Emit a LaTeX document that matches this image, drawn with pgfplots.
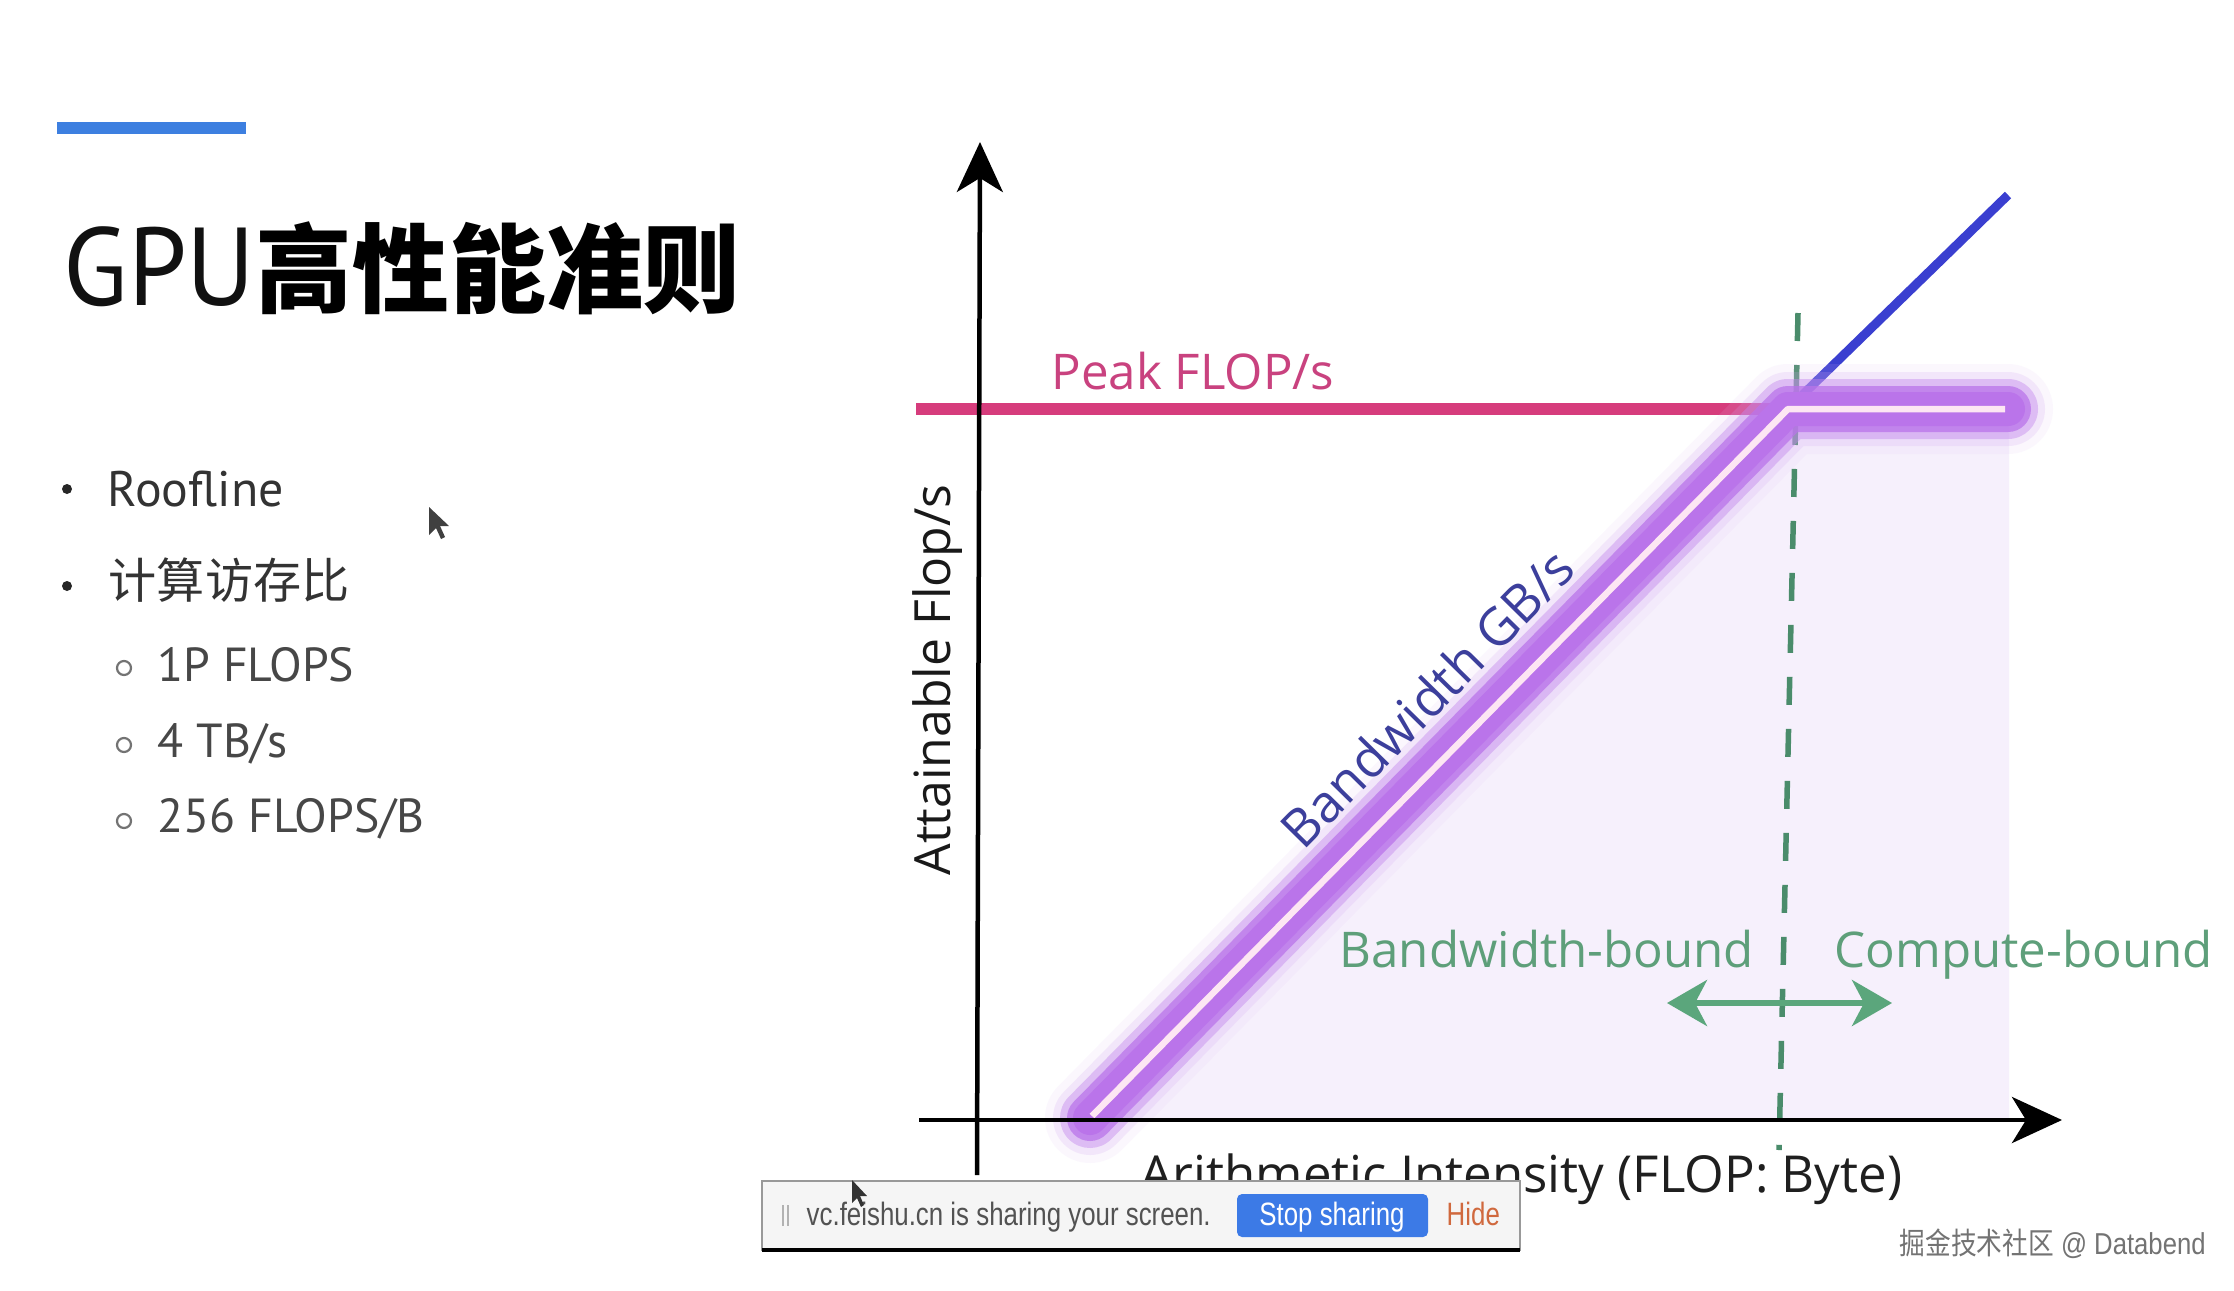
\documentclass[border=0pt]{standalone}
\usepackage{fontspec}
\usepackage{graphicx}
\usepackage{pgfplots}
\pgfplotsset{compat=1.18}
\usetikzlibrary{arrows.meta}
\setmainfont{Open Sans}
\newfontfamily\ptsans{PT Sans}
\newfontfamily\cjk{Noto Sans CJK SC}
\newfontfamily\lib{Liberation Sans}
\definecolor{titlebar}{HTML}{3D7FE0}
\definecolor{peak}{HTML}{D63C7C}
\definecolor{peaktext}{HTML}{C9427F}
\definecolor{bwblue}{HTML}{3A3FD0}
\definecolor{glow}{HTML}{BA74EA}
\definecolor{shade}{HTML}{F6F0FC}
\definecolor{dgreen}{HTML}{4A8C6B}
\definecolor{lgreen}{HTML}{5BA67C}
\definecolor{tgreen}{HTML}{5E9F7A}
\definecolor{indigo}{HTML}{3C3F9C}
\definecolor{stopblue}{HTML}{3C7AE6}
\definecolor{hide}{HTML}{D0693E}
\begin{document}
\begin{tikzpicture}
\begin{axis}[at={(0,0)}, anchor=south west, scale only axis,
  width=223.4mm, height=129mm,
  xmin=0, xmax=2234, ymin=0, ymax=1290, y dir=reverse,
  hide axis, clip=false]
% background
\fill[white] (0,0) rectangle (2234,1290);
% ---------- slide text ----------
\fill[titlebar] (57,122) rectangle (246,134);
\node[anchor=base west, inner sep=0] at (63,305)
  {\scalebox{0.95}[1]{\ptsans\fontsize{31.5}{31.5}\selectfont\color[HTML]{111111}GPU}%
   {\cjk\bfseries\fontsize{27.6}{27.6}\selectfont 高性能准则}};
\fill[black!85] (67,489) circle[radius=5];
\node[anchor=base west, inner sep=0, text=black!80] at (107,506)
  {\ptsans\fontsize{14.2}{14.2}\selectfont Roofline};
\fill[black!85] (67,586) circle[radius=5];
\node[anchor=base west, inner sep=0, text=black!80] at (108,598)
  {\cjk\fontsize{13.7}{13.7}\selectfont 计算访存比};
\draw[black!55, line width=0.22mm] (124,668) circle[radius=7];
\node[anchor=base west, inner sep=0, text=black!72] at (157,681)
  {\ptsans\fontsize{13.6}{13.6}\selectfont 1P FLOPS};
\draw[black!55, line width=0.22mm] (124,745) circle[radius=7];
\node[anchor=base west, inner sep=0, text=black!72] at (157,757)
  {\ptsans\fontsize{13.6}{13.6}\selectfont 4 TB/s};
\draw[black!55, line width=0.22mm] (124,821) circle[radius=7];
\node[anchor=base west, inner sep=0, text=black!72] at (157,832)
  {\ptsans\fontsize{13.6}{13.6}\selectfont 256 FLOPS/B};
% cursor
\fill[black!75] (429,507) -- (429,535) -- (436,528) -- (441,539) -- (445,537) -- (440,526) -- (449,526) -- cycle;
% ---------- roofline chart ----------
% attainable region
\addplot[fill=shade, draw=none] coordinates {(1090,1120) (1788,409) (2009,409) (2009,1120)} -- cycle;
% ridge divider
\addplot[dgreen, line width=0.55mm, dash pattern=on 2.8mm off 2.4mm] coordinates {(1798,313) (1779,1150)};
% peak compute
\addplot[peak, line width=1.15mm] coordinates {(916,409) (1790,409)};
% bandwidth line
\addplot[bwblue, line width=0.9mm] coordinates {(1788,409) (2008,195)};
% glowing roofline
\addplot[glow!45, opacity=0.12, line width=9mm, line cap=round, line join=round] coordinates {(1090,1118) (1788,409) (2008,409)};
\addplot[glow!65, opacity=0.2, line width=7.4mm, line cap=round, line join=round] coordinates {(1090,1118) (1788,409) (2008,409)};
\addplot[glow!85, opacity=0.45, line width=6mm, line cap=round, line join=round] coordinates {(1090,1118) (1788,409) (2008,409)};
\addplot[glow, opacity=0.75, line width=4.6mm, line cap=round, line join=round] coordinates {(1090,1118) (1788,409) (2008,409)};
\addplot[glow, line width=3.4mm, line cap=round, line join=round] coordinates {(1090,1118) (1788,409) (2008,409)};
\addplot[white!90!magenta, line width=0.65mm, line join=round] coordinates {(1092,1116) (1788,409) (2005,409)};
% axes
\addplot[black, line width=0.45mm, -{Stealth[length=5mm,width=4.6mm,inset=1.4mm]}] coordinates {(977,1175) (980,142)};
\addplot[black, line width=0.45mm, -{Stealth[length=5mm,width=4.6mm,inset=1.4mm]}] coordinates {(919,1120) (2062,1120)};
% bound arrow
\addplot[lgreen, line width=0.55mm, {Stealth[length=4mm,width=4.6mm,inset=1.2mm]}-{Stealth[length=4mm,width=4.6mm,inset=1.2mm]}] coordinates {(1667,1003) (1892,1003)};
% labels
\node[anchor=base west, inner sep=0, text=peaktext] at (1051,389)
  {\fontsize{14}{14}\selectfont Peak FLOP/s};
\node[anchor=base west, inner sep=0, rotate=90, text=black!90] at (950,876)
  {\fontsize{14.2}{14.2}\selectfont Attainable Flop/s};
\node[anchor=center, inner sep=0, rotate=45.5, text=indigo] at (1427,698)
  {\fontsize{14.8}{14.8}\selectfont Bandwidth GB/s};
\node[anchor=base west, inner sep=0, text=tgreen] at (1339,967)
  {\fontsize{14}{14}\selectfont Bandwidth-bound};
\node[anchor=base west, inner sep=0, text=tgreen] at (1834,967)
  {\fontsize{14}{14}\selectfont Compute-bound};
\node[anchor=base west, inner sep=0, text=black!88] at (1140,1192)
  {\fontsize{14.5}{14.5}\selectfont Arithmetic Intensity (FLOP: Byte)};
% ---------- screen-sharing bar ----------
\fill[black!4] (762,1181) rectangle (1520,1251);
\draw[black!40, line width=0.15mm] (762,1251) -- (762,1181) -- (1520,1181) -- (1520,1251);
\draw[black, line width=0.4mm] (762,1250) -- (1520,1250);
\draw[black!30, line width=0.25mm] (783,1205) -- (783,1226);
\draw[black!30, line width=0.25mm] (788,1205) -- (788,1226);
\node[anchor=base west, inner sep=0, text=black!68] at (806,1225)
  {\scalebox{0.8}[1]{\lib\fontsize{9.2}{9.2}\selectfont vc.feishu.cn is sharing your screen.}};
\fill[stopblue, rounded corners=0.5mm] (1237,1194) rectangle (1428,1237);
\node[anchor=base, inner sep=0, text=white] at (1332,1225)
  {\scalebox{0.8}[1]{\lib\fontsize{9.2}{9.2}\selectfont Stop sharing}};
\node[anchor=base west, inner sep=0, text=hide] at (1446,1225)
  {\scalebox{0.8}[1]{\lib\fontsize{9.2}{9.2}\selectfont Hide}};
\fill[black!80] (852,1180) -- (852,1203) -- (857,1198) -- (861,1207) -- (864,1205) -- (860,1196) -- (867,1196) -- cycle;
% watermark
\node[anchor=base west, inner sep=0, text=black!55] at (1899,1254)
  {\scalebox{0.85}[1]{{\cjk\fontsize{8.6}{8.6}\selectfont 掘金技术社区}{\lib\fontsize{8.6}{8.6}\selectfont\ @ Databend}}};
\end{axis}
\pgfresetboundingbox
\path (0,0) rectangle (223.4mm,129mm);
\end{tikzpicture}
\end{document}
